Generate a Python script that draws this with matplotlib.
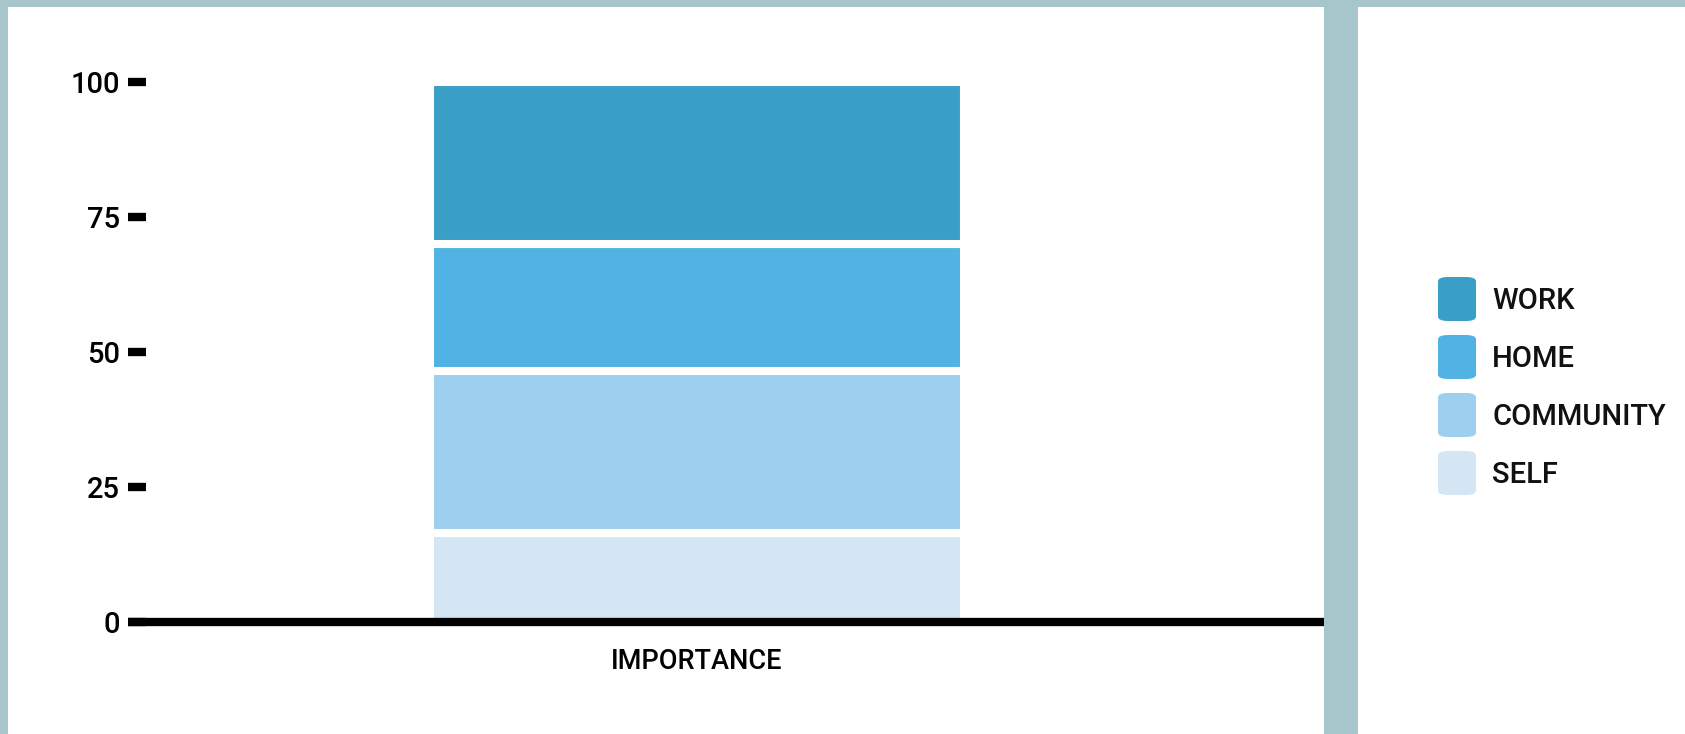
#!/usr/bin/env python3
"""Stacked single bar: importance split across life areas."""

import matplotlib
matplotlib.use('Agg')
import matplotlib.pyplot as plt
from matplotlib.patches import Rectangle, FancyBboxPatch

# Data (bottom to top)
categories = ['SELF', 'COMMUNITY', 'HOME', 'WORK']
values = [16.5, 30, 23.5, 30]
colors = ['#d4e6f3', '#9ecfee', '#50b3e3', '#3a9fc6']
group = ['IMPORTANCE']
yticks = [0, 25, 50, 75, 100]

BG = '#a6c6cb'
W, H = 1685, 734

fig = plt.figure(figsize=(W / 100, H / 100), dpi=100, facecolor=BG)

# white panels on the slide background
fig.add_artist(Rectangle((8 / W, 0), (1324 - 8) / W, (H - 7) / H,
                         transform=fig.transFigure, facecolor='white', edgecolor='none', zorder=0))
fig.add_artist(Rectangle((1358 / W, 0), (W - 1358) / W, (H - 7) / H,
                         transform=fig.transFigure, facecolor='white', edgecolor='none', zorder=0))

ax = fig.add_axes([128 / W, 112 / H, (1324 - 128) / W, 540 / H])
ax.set_facecolor('none')

bottom = 0
for cat, val, col in zip(categories, values, colors):
    ax.bar(0, val, width=0.8, bottom=bottom, color=col, edgecolor='white',
           linewidth=5.8, clip_on=False, zorder=2)
    bottom += val

ax.set_ylim(0, 100)
ax.set_xlim(-0.853, 0.94)
ax.set_yticks(yticks)
ax.set_yticklabels([str(t) for t in yticks], family=['Liberation Sans Narrow', 'Roboto'],
                   fontsize=21, fontweight='medium')
ax.set_xticks([0])
ax.set_xticklabels(group, family='Roboto', fontsize=19.5, fontweight='medium')
ax.tick_params(axis='y', direction='in', length=13, width=6, color='black', pad=6)
ax.tick_params(axis='x', length=0, pad=19)
for s in ['top', 'right', 'left']:
    ax.spines[s].set_visible(False)
ax.spines['bottom'].set_linewidth(6)
ax.spines['bottom'].set_capstyle('butt')
ax.spines['bottom'].set_zorder(3)

# legend in right panel, top to bottom
sq_w, sq_h = 38, 44
tops = 277
step = 58
for i, (cat, col) in enumerate(zip(categories[::-1], colors[::-1])):
    y_top = tops + i * step
    fig.add_artist(FancyBboxPatch((1438 / W, 1 - (y_top + sq_h) / H), sq_w / W, sq_h / H,
                                  boxstyle='round,pad=0,rounding_size=0.006',
                                  transform=fig.transFigure, facecolor=col, edgecolor='none'))
    fig.text(1492 / W, 1 - (y_top + sq_h / 2 + 2) / H, cat, family='Roboto', fontsize=21,
             fontweight='medium', va='center', ha='left', color='#111111')

fig.savefig('out.png', dpi=100, facecolor=BG)
